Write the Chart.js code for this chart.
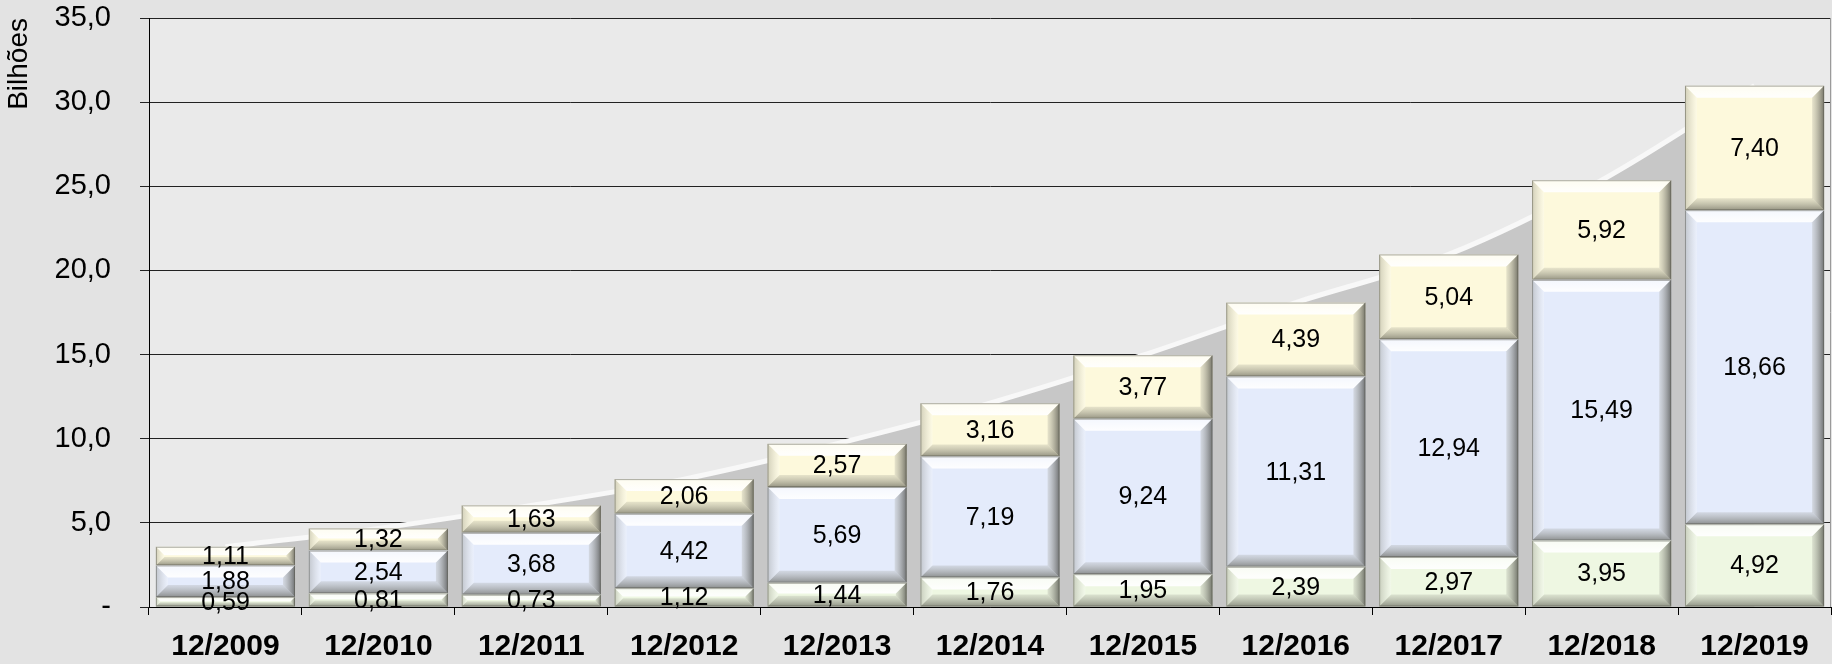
<!DOCTYPE html>
<html>
<head>
<meta charset="utf-8">
<script src="https://cdn.jsdelivr.net/npm/chart.js@4.4.1/dist/chart.umd.min.js"></script>
<style>
  html, body { margin: 0; padding: 0; background: #e4e4e4; }
  canvas { display: block; }
</style>
</head>
<body>
<canvas id="myChart" width="1832" height="664"></canvas>
<script>
const labels = ["12/2009", "12/2010", "12/2011", "12/2012", "12/2013", "12/2014",
                "12/2015", "12/2016", "12/2017", "12/2018", "12/2019"];
const greenValues  = [0.59, 0.81, 0.73, 1.12, 1.44, 1.76, 1.95, 2.39, 2.97, 3.95, 4.92];
const blueValues   = [1.88, 2.54, 3.68, 4.42, 5.69, 7.19, 9.24, 11.31, 12.94, 15.49, 18.66];
const yellowValues = [1.11, 1.32, 1.63, 2.06, 2.57, 3.16, 3.77, 4.39, 5.04, 5.92, 7.40];
const yMax = 35;
const yStep = 5;

const totals = labels.map((_, i) => greenValues[i] + blueValues[i] + yellowValues[i]);
const FONT = "'Liberation Sans', Arial, sans-serif";

function fmt(v)
{
  return v.toFixed(2).replace(".", ",");
}

function poly(ctx, pts, fill)
{
  ctx.beginPath();
  ctx.moveTo(pts[0][0], pts[0][1]);
  for (let i = 1; i < pts.length; i++)
    ctx.lineTo(pts[i][0], pts[i][1]);
  ctx.closePath();
  ctx.fillStyle = fill;
  ctx.fill();
}

function grad(ctx, x0, y0, x1, y1, c0, c1)
{
  const g = ctx.createLinearGradient(x0, y0, x1, y1);
  g.addColorStop(0, c0);
  g.addColorStop(1, c1);
  return g;
}

const backgroundPlugin = {
  id: "background",
  beforeDraw(chart) {
    const {ctx, chartArea} = chart;
    ctx.save();
    ctx.fillStyle = "#e3e3e3";
    ctx.fillRect(0, 0, chart.width, chart.height);
    ctx.fillStyle = "#eaeaea";
    ctx.fillRect(chartArea.left, chartArea.top, chartArea.right - chartArea.left, chartArea.bottom - chartArea.top);
    ctx.restore();
  },
  afterDraw(chart) {
    // thin frame line on the right of the plot
    const {ctx, chartArea} = chart;
    ctx.save();
    ctx.strokeStyle = "#9a9a9a";
    ctx.lineWidth = 1;
    ctx.beginPath();
    ctx.moveTo(chartArea.right - 0.5, chartArea.top);
    ctx.lineTo(chartArea.right - 0.5, chartArea.bottom);
    ctx.stroke();
    ctx.restore();
  }
};

// bevelled look of the bar segments
const bevelPlugin = {
  id: "bevel",
  afterDatasetDraw(chart, args) {
    const meta = args.meta;
    if (meta.type !== "bar")
      return;
    const ctx = chart.ctx;
    ctx.save();
    meta.data.forEach(bar => {
      const {x, y, base, width} = bar.getProps(["x", "y", "base", "width"], true);
      const l = x - width / 2, r = x + width / 2;
      const t = Math.min(y, base), b = Math.max(y, base);
      const s = Math.min(12, (b - t) / 2.2, width / 4);
      poly(ctx, [[l, t], [r, t], [r - s, t + s], [l + s, t + s]],
        grad(ctx, 0, t, 0, t + s, "rgba(255,255,255,0.6)", "rgba(255,255,255,0.95)"));
      poly(ctx, [[l, b], [r, b], [r - s, b - s], [l + s, b - s]],
        grad(ctx, 0, b, 0, b - s, "rgba(80,80,70,0.6)", "rgba(140,140,130,0.2)"));
      poly(ctx, [[l, t], [l + s, t + s], [l + s, b - s], [l, b]],
        grad(ctx, l, 0, l + s, 0, "rgba(130,130,120,0.35)", "rgba(255,255,255,0.25)"));
      poly(ctx, [[r, t], [r - s, t + s], [r - s, b - s], [r, b]],
        grad(ctx, r, 0, r - s, 0, "rgba(60,60,55,0.7)", "rgba(160,160,150,0.25)"));
      ctx.strokeStyle = "rgba(90,90,80,0.5)";
      ctx.lineWidth = 1;
      ctx.strokeRect(l + 0.5, t + 0.5, width - 1, b - t - 1);
    });
    ctx.restore();
  }
};

const valueLabelPlugin = {
  id: "valueLabels",
  afterDatasetsDraw(chart) {
    const ctx = chart.ctx;
    ctx.save();
    ctx.font = "25px " + FONT;
    ctx.fillStyle = "#000";
    ctx.textAlign = "center";
    ctx.textBaseline = "middle";
    chart.data.datasets.forEach((ds, i) => {
      if (ds.type === "line")
        return;
      chart.getDatasetMeta(i).data.forEach((bar, j) => {
        const {x, y, base} = bar.getProps(["x", "y", "base"], true);
        ctx.fillText(fmt(ds.data[j]), x, (y + base) / 2 + 1);
      });
    });
    ctx.restore();
  }
};

const barStyle = {
  type: "bar",
  order: 1,
  barPercentage: 0.91,
  categoryPercentage: 1.0,
  borderWidth: 0,
  borderSkipped: false,
};

new Chart(document.getElementById("myChart"), {
  data: {
    labels: labels,
    datasets: [
      {...barStyle, label: "green", data: greenValues, backgroundColor: "#eef7e2"},
      {...barStyle, label: "blue", data: blueValues, backgroundColor: "#e4ebfb"},
      {...barStyle, label: "yellow", data: yellowValues, backgroundColor: "#fdf9dc"},
      {
        type: "line",
        label: "total",
        order: 5,
        data: totals,
        fill: "origin",
        backgroundColor: "#c7c7c7",
        borderColor: "#f8f8f8",
        borderWidth: 5,
        cubicInterpolationMode: "monotone",
        pointRadius: 0,
      },
    ],
  },
  options: {
    responsive: false,
    devicePixelRatio: 1,
    animation: false,
    layout: {padding: {top: 18, right: 1, left: 0, bottom: 0}},
    plugins: {
      legend: {display: false},
      tooltip: {enabled: false},
    },
    scales: {
      x: {
        stacked: true,
        grid: {offset: true, drawOnChartArea: false, tickLength: 8, color: "#000"},
        border: {color: "#000"},
        ticks: {
          color: "#000",
          font: {family: FONT, size: 30, weight: "bold"},
          padding: 14,
          maxRotation: 0,
          autoSkip: false,
        },
        afterFit(scale) {
          scale.height = 57;
          scale.paddingLeft = 0;
          scale.paddingRight = 0;
        },
      },
      y: {
        stacked: true,
        min: 0,
        max: yMax,
        grid: {color: "#222", tickLength: 9},
        border: {color: "#000"},
        ticks: {
          stepSize: yStep,
          color: "#000",
          font: {family: FONT, size: 29},
          padding: 29,
          callback: v => v === 0 ? "-" : v.toFixed(1).replace(".", ","),
        },
        title: {
          display: true,
          text: "Bilhões",
          align: "end",
          color: "#000",
          font: {family: FONT, size: 28},
          padding: {top: 2, bottom: 0},
        },
        afterFit(scale) {
          scale.width = 149;
          scale.paddingTop = 0;
          scale.paddingBottom = 0;
        },
      },
    },
  },
  plugins: [backgroundPlugin, bevelPlugin, valueLabelPlugin],
});
</script>
</body>
</html>
